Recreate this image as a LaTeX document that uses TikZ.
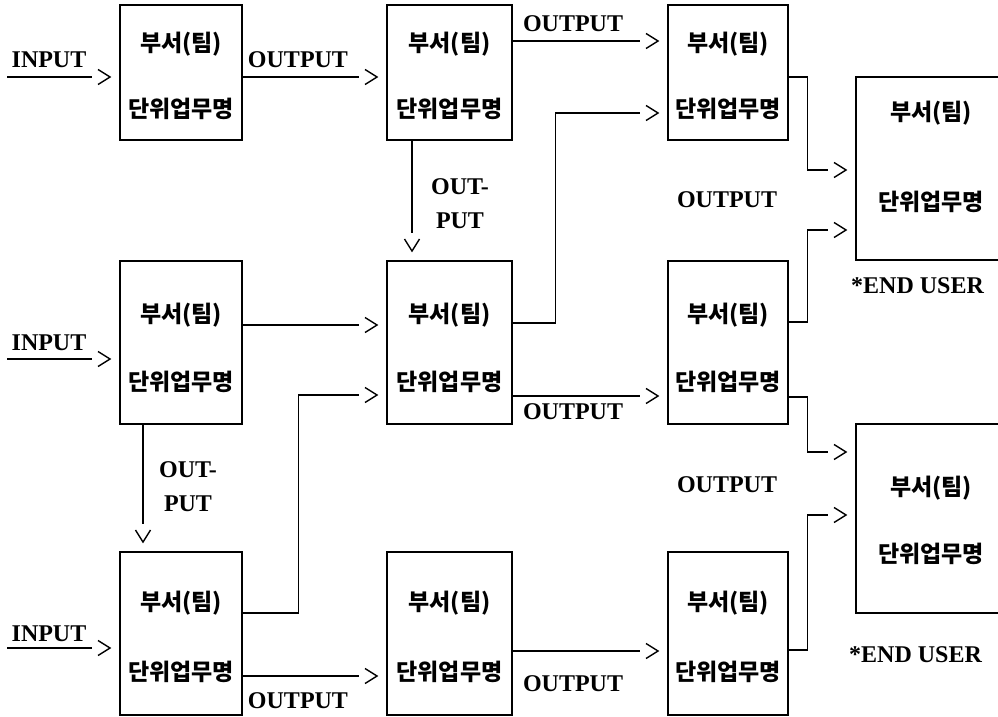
\documentclass[tikz,border=0pt]{standalone}
\usepackage{fontspec}
\setmainfont{Liberation Serif}
\newfontfamily\hangul{Noto Sans CJK KR}
\usetikzlibrary{arrows.meta,decorations.markings}

\begin{document}
\begin{tikzpicture}[x=1pt,y=-1pt,
  unit/.style={draw,line width=1.3pt,inner sep=0pt},
  unittext/.style={align=center,inner sep=0pt},
  flow/.style={line width=1.3pt,shorten >=27pt,postaction={decorate},
    decoration={markings,mark=at position -8pt with {\arrow[line width=1.4pt]{Straight Barb[length=12pt,width=15pt]}}}},
  tag/.style={font=\bfseries\fontsize{24}{34}\selectfont,inner sep=0pt,align=center}]
  \useasboundingbox (0,0) rectangle (998,717);
  % unit boxes: name/x/y/width/height/line gap/text shift
  \foreach \n/\x/\y/\w/\h/\g/\s in {a1/181/72.5/122/135/66/3,b1/449.5/72.5/125/135/66/3,c1/728/72.5/120/135/66/3,
      a2/181/342.5/122/163/68/5,b2/449.5/342.5/125/163/68/5,c2/728/342.5/120/163/68/5,
      a3/181/633.5/122/163/70/3,b3/449.5/633.5/125/163/70/3,c3/728/633.5/120/163/70/3,
      d1/931/168.5/150/183/90/-12,d2/931/518.5/150/189/67/2}{
    \node[unit,minimum width=\w pt,minimum height=\h pt] (\n) at (\x,\y) {};
    \node[unittext,font=\hangul\bfseries\fontsize{23}{\g}\selectfont] (\n t) at ([yshift=-\s pt]\n.center) {부서(팀)\\단위업무명};
  }
  % inputs from outside
  \coordinate (in1) at (7,77);
  \coordinate (in2) at (7,359);
  \coordinate (in3) at (7,648);
  \draw[flow] (in1) -- (in1 -| a1.west);
  \draw[flow] (in2) -- (in2 -| a2.west);
  \draw[flow] (in3) -- (in3 -| a3.west);
  % top row
  \draw[flow] ([yshift=-4.5pt]a1.east) -- ([yshift=-4.5pt]b1.west);
  \draw[flow] ([yshift=31.5pt]b1.east) -- ([yshift=31.5pt]c1.west);
  \draw[flow] ([xshift=-37.5pt]b1.south) -- ([xshift=-37.5pt]b2.north);
  % middle row
  \draw[flow] ([yshift=17.5pt]a2.east) -- ([yshift=17.5pt]b2.west);
  \draw[flow] ([yshift=19.5pt]b2.east) -- ++(43,0) |- ([yshift=-40.5pt]c1.west);
  \draw[flow] ([yshift=-53.5pt]b2.east) -- ([yshift=-53.5pt]c2.west);
  \draw[flow] ([xshift=-38pt]a2.south) -- ([xshift=-38pt]a3.north);
  % bottom row
  \draw[flow] ([yshift=20.5pt]a3.east) -- ++(56,0) |- ([yshift=-52.5pt]b2.west);
  \draw[flow] ([yshift=-42.5pt]a3.east) -- ([yshift=-42.5pt]b3.west);
  \draw[flow] ([yshift=-17.5pt]b3.east) -- ([yshift=-17.5pt]c3.west);
  % to the end users
  \draw[flow] ([yshift=-4.5pt]c1.east) -- ++(19,0) |- ([yshift=-1.5pt]d1.west);
  \draw[flow] ([yshift=20.5pt]c2.east) -- ++(19,0) |- ([yshift=-61.5pt]d1.west);
  \draw[flow] ([yshift=-54.5pt]c2.east) -- ++(19,0) |- ([yshift=66.5pt]d2.west);
  \draw[flow] ([yshift=-16.5pt]c3.east) -- ++(19,0) |- ([yshift=3.5pt]d2.west);
  % labels
  \node[tag] (in1l) at (49,60) {INPUT};
  \node[tag] (in2l) at (49,343) {INPUT};
  \node[tag] (in3l) at (49,634) {INPUT};
  \node[tag] (o1) at (298,60) {OUTPUT};
  \node[tag] (o2) at (573,24) {OUTPUT};
  \node[tag] (o3) at (460,203.5) {OUT-\\PUT};
  \node[tag] (o4) at (188,487) {OUT-\\PUT};
  \node[tag] (o5) at (573,411.5) {OUTPUT};
  \node[tag] (o6) at (727,200) {OUTPUT};
  \node[tag] (o7) at (727,485) {OUTPUT};
  \node[tag] (o8) at (298,701) {OUTPUT};
  \node[tag] (o9) at (573,683.5) {OUTPUT};
  \node[tag,anchor=west] (eu1) at (851,286) {*END USER};
  \node[tag,anchor=west] (eu2) at (849,655) {*END USER};
\end{tikzpicture}
\end{document}
